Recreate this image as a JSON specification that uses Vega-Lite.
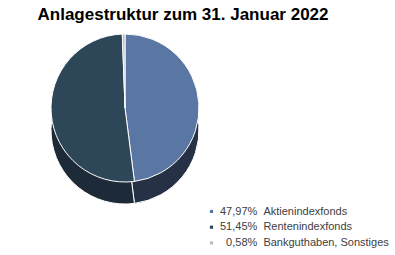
{
  "$schema": "https://vega.github.io/schema/vega-lite/v6.json",
  "width": 250,
  "height": 144,
  "autosize": {"type": "none"},
  "padding": {"left": 0, "top": 36, "right": 145, "bottom": 75},
  "background": "white",
  "title": {
    "text": "Anlagestruktur zum 31. Januar 2022",
    "font": "Liberation Sans",
    "fontSize": 17,
    "fontWeight": "bold",
    "color": "#000000",
    "anchor": "middle",
    "dx": 58,
    "offset": 8
  },
  "data": {
    "values": [
      {"Nr": 1, "Kategorie": "Aktienindexfonds", "Anteil": 47.97},
      {"Nr": 2, "Kategorie": "Rentenindexfonds", "Anteil": 51.45},
      {"Nr": 3, "Kategorie": "Bankguthaben, Sonstiges", "Anteil": 0.58}
    ]
  },
  "transform": [
    {"calculate": "(datum.Anteil < 10 ? '\u200b\u00a0\u00a0' : '') + replace(format(datum.Anteil, '.2f'), '.', ',') + '%\u00a0\u00a0' + datum.Kategorie", "as": "Legende"}
  ],
  "layer": [
    {
      "mark": {"type": "arc", "outerRadius": 74, "yOffset": 22, "stroke": "#ffffff", "strokeWidth": 1},
      "encoding": {
        "theta": {"field": "Anteil", "type": "quantitative", "stack": true},
        "order": {"field": "Nr", "type": "quantitative", "sort": "ascending"},
        "fill": {
          "field": "Legende",
          "type": "nominal",
          "sort": {"field": "Nr"},
          "scale": {"range": ["#263146", "#1d2a37", "#8a929a"]},
          "legend": null
        }
      }
    },
    {
      "mark": {"type": "arc", "outerRadius": 74, "stroke": "#ffffff", "strokeWidth": 1},
      "encoding": {
        "theta": {"field": "Anteil", "type": "quantitative", "stack": true},
        "order": {"field": "Nr", "type": "quantitative", "sort": "ascending"},
        "color": {
          "field": "Legende",
          "type": "nominal",
          "sort": {"field": "Nr"},
          "scale": {"range": ["#5a76a3", "#2d4658", "#b4bcc4"]},
          "legend": {
            "title": null,
            "orient": "none",
            "legendX": 206,
            "legendY": 170,
            "symbolType": "square",
            "symbolSize": 10,
            "symbolStrokeWidth": 0,
            "labelFont": "Liberation Sans",
            "labelFontSize": 11,
            "labelColor": "#404040",
            "labelOffset": 3,
            "rowPadding": 3.7,
            "labelLimit": 300
          }
        }
      }
    }
  ],
  "resolve": {
    "scale": {"color": "independent", "fill": "independent"},
    "legend": {"color": "independent", "fill": "independent"}
  },
  "config": {"view": {"stroke": null}}
}
